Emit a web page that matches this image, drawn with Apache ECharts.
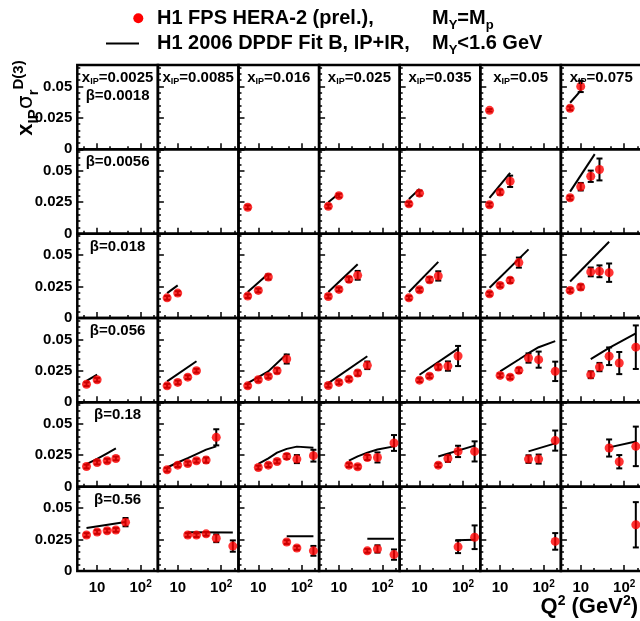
<!DOCTYPE html>
<html>
<head>
<meta charset="utf-8">
<title>H1 FPS HERA-2 reduced diffractive cross section</title>
<script src="https://cdn.jsdelivr.net/npm/echarts@6/dist/echarts.min.js"></script>
<style>
html, body { margin: 0; padding: 0; background: #fff; }
#main { width: 640px; height: 621px; }
</style>
</head>
<body>
<div id="main"></div>
<script>
// bins of the plot
var xpomBins = ['0.0025', '0.0085', '0.016', '0.025', '0.035', '0.05', '0.075'];
var betaBins = ['0.0018', '0.0056', '0.018', '0.056', '0.18', '0.56'];
var q2Range = [3.5, 250];
var yRange = [0, 0.067];
var yMajorTicks = [0, 0.025, 0.05];
var yMinorTicks = [0.005, 0.01, 0.015, 0.02, 0.03, 0.035, 0.04, 0.045, 0.055, 0.06, 0.065];
var xMajorTicks = [10, 100];
var xMinorTicks = [5, 20, 50, 200];

// measured points per beta row: [xpom column, Q2, x_IP sigma_r, error]
var dataB0018 = [
  [5, 5.7, 0.031, 0.001],
  [6, 5.7, 0.0326, 0.0015], [6, 10, 0.050, 0.0045]
];
var dataB0056 = [
  [2, 5.7, 0.021, 0.0015],
  [3, 5.7, 0.0217, 0.0015], [3, 10, 0.0302, 0.0015],
  [4, 5.7, 0.0237, 0.0015], [4, 10, 0.0322, 0.002],
  [5, 5.7, 0.023, 0.0015], [5, 10, 0.033, 0.002], [5, 17, 0.0416, 0.0045],
  [6, 5.7, 0.0285, 0.0015], [6, 10, 0.0373, 0.003], [6, 17, 0.0456, 0.0045], [6, 27, 0.051, 0.0087]
];
var dataB018 = [
  [1, 5.7, 0.016, 0.0015], [1, 10, 0.0198, 0.0015],
  [2, 5.7, 0.0174, 0.0015], [2, 10, 0.0219, 0.0015], [2, 17, 0.0326, 0.002],
  [3, 5.7, 0.0171, 0.0015], [3, 10, 0.0227, 0.0015], [3, 17, 0.0307, 0.002], [3, 27, 0.0339, 0.0035],
  [4, 5.7, 0.016, 0.0015], [4, 10, 0.0224, 0.0015], [4, 17, 0.0304, 0.002], [4, 27, 0.0334, 0.0037],
  [5, 5.7, 0.0192, 0.0015], [5, 10, 0.0259, 0.0015], [5, 17, 0.0299, 0.002], [5, 27, 0.044, 0.004],
  [6, 5.7, 0.0219, 0.0015], [6, 10, 0.0246, 0.002], [6, 17, 0.0366, 0.0035], [6, 27, 0.0371, 0.0047], [6, 45, 0.036, 0.0073]
];
var dataB056 = [
  [0, 5.7, 0.0144, 0.0015], [0, 10, 0.0179, 0.0015],
  [1, 5.7, 0.0131, 0.0015], [1, 10, 0.0158, 0.0015], [1, 17, 0.020, 0.0015], [1, 27, 0.0251, 0.0015],
  [2, 5.7, 0.0131, 0.0015], [2, 10, 0.0179, 0.0015], [2, 17, 0.0206, 0.0015], [2, 27, 0.0251, 0.002], [2, 45, 0.0344, 0.0036],
  [3, 5.7, 0.0134, 0.0015], [3, 10, 0.0158, 0.0015], [3, 17, 0.0184, 0.0015], [3, 27, 0.0232, 0.002], [3, 45, 0.0294, 0.003],
  [4, 10, 0.0176, 0.0015], [4, 17, 0.0208, 0.0015], [4, 27, 0.028, 0.002], [4, 45, 0.0288, 0.0037], [4, 77, 0.0368, 0.008],
  [5, 10, 0.0214, 0.0015], [5, 17, 0.020, 0.0015], [5, 27, 0.0254, 0.002], [5, 45, 0.0352, 0.0037], [5, 77, 0.0339, 0.0064], [5, 185, 0.0246, 0.0077],
  [6, 17, 0.0219, 0.0027], [6, 27, 0.028, 0.0033], [6, 45, 0.0366, 0.007], [6, 77, 0.0312, 0.0088], [6, 185, 0.0438, 0.0173]
];
var dataB18 = [
  [0, 5.7, 0.016, 0.0015], [0, 10, 0.0192, 0.0015], [0, 17, 0.0206, 0.0015], [0, 27, 0.0224, 0.0015],
  [1, 5.7, 0.0134, 0.0015], [1, 10, 0.0171, 0.0015], [1, 17, 0.0184, 0.0015], [1, 27, 0.0206, 0.0015], [1, 45, 0.0211, 0.002], [1, 77, 0.0392, 0.0064],
  [2, 10, 0.0152, 0.0015], [2, 17, 0.0171, 0.0015], [2, 27, 0.020, 0.0015], [2, 45, 0.024, 0.002], [2, 77, 0.0219, 0.0032], [2, 185, 0.0246, 0.0047],
  [3, 17, 0.0171, 0.0015], [3, 27, 0.0158, 0.0015], [3, 45, 0.0232, 0.002], [3, 77, 0.0232, 0.004], [3, 185, 0.0347, 0.0063],
  [4, 27, 0.0171, 0.0015], [4, 45, 0.0224, 0.0027], [4, 77, 0.028, 0.0045], [4, 185, 0.028, 0.008],
  [5, 45, 0.0219, 0.003], [5, 77, 0.0219, 0.0036], [5, 185, 0.0366, 0.008],
  [6, 45, 0.0307, 0.0068], [6, 77, 0.0198, 0.0053], [6, 185, 0.032, 0.0157]
];
var dataB56 = [
  [0, 5.7, 0.0286, 0.0015], [0, 10, 0.031, 0.0015], [0, 17, 0.032, 0.0015], [0, 27, 0.0326, 0.0015], [0, 45, 0.0388, 0.0033],
  [1, 17, 0.0286, 0.0015], [1, 27, 0.0285, 0.0015], [1, 45, 0.0295, 0.0015], [1, 77, 0.026, 0.0031], [1, 185, 0.0198, 0.0045],
  [2, 45, 0.023, 0.0015], [2, 77, 0.0183, 0.0015], [2, 185, 0.016, 0.0039],
  [3, 45, 0.016, 0.0015], [3, 77, 0.0175, 0.0029], [3, 185, 0.013, 0.0041],
  [4, 77, 0.0192, 0.005], [4, 185, 0.0268, 0.0094],
  [5, 185, 0.0235, 0.0066],
  [6, 185, 0.0367, 0.018]
];

// DPDF fit B curves per beta row: [xpom column, [[Q2, value], ...]]
var fitB0018 = [
  [6, [[5.7, 0.037], [10, 0.0466]]]
];
var fitB0056 = [
  [3, [[5.7, 0.025], [10, 0.0319]]],
  [4, [[5.7, 0.0276], [10, 0.0356]]],
  [5, [[5.7, 0.0284], [17, 0.0483]]],
  [6, [[5.7, 0.0334], [21, 0.0632]]]
];
var fitB018 = [
  [1, [[5.7, 0.0198], [10, 0.0259]]],
  [2, [[5.7, 0.0206], [17, 0.0352]]],
  [3, [[5.7, 0.0206], [27, 0.0427]]],
  [4, [[5.7, 0.0206], [27, 0.0446]]],
  [5, [[5.7, 0.024], [45, 0.0545]]],
  [6, [[5.7, 0.029], [45, 0.0606]]]
];
var fitB056 = [
  [0, [[5.7, 0.017], [10, 0.022]]],
  [1, [[5.7, 0.0166], [27, 0.0326]]],
  [2, [[5.7, 0.0152], [17, 0.0246], [45, 0.0384]]],
  [3, [[5.7, 0.0152], [45, 0.0366]]],
  [4, [[10, 0.0219], [77, 0.0427]]],
  [5, [[10, 0.0246], [27, 0.034], [45, 0.039], [77, 0.0438], [185, 0.0486]]],
  [6, [[17, 0.0344], [45, 0.0433], [185, 0.0547]]]
];
var fitB18 = [
  [0, [[5.7, 0.0179], [10, 0.022], [17, 0.0265], [27, 0.0304]]],
  [1, [[5.7, 0.0152], [10, 0.0192], [17, 0.0227], [27, 0.0259], [45, 0.0294], [77, 0.032]]],
  [2, [[10, 0.018], [17, 0.0225], [27, 0.027], [45, 0.030], [77, 0.0318], [185, 0.031]]],
  [3, [[17, 0.0206], [27, 0.024], [45, 0.027], [77, 0.0295], [185, 0.032]]],
  [4, [[27, 0.024], [185, 0.0326]]],
  [5, [[45, 0.028], [185, 0.0344]]],
  [6, [[45, 0.0312], [185, 0.0358]]]
];
var fitB56 = [
  [0, [[5.7, 0.0342], [45, 0.039]]],
  [1, [[17, 0.0308], [185, 0.0305]]],
  [2, [[45, 0.0275], [185, 0.0275]]],
  [3, [[45, 0.0257], [185, 0.0257]]],
  [4, [[68, 0.0245], [185, 0.0248]]]
];

var dataRows = [dataB0018, dataB0056, dataB018, dataB056, dataB18, dataB56];
var fitRows = [fitB0018, fitB0056, fitB018, fitB056, fitB18, fitB56];

// panel layout
var X0 = 77.3, Y0 = 65, PW = 80.6, PH = 84.33;
var FONT = '"Liberation Sans", Arial, Helvetica, sans-serif';

var chart = echarts.init(document.getElementById('main'), null, { renderer: 'canvas' });

var grids = [], xAxes = [], yAxes = [], series = [], graphics = [];

function renderErr(params, api) {
  var x = api.value(0);
  var p1 = api.coord([x, api.value(2)]);
  var p2 = api.coord([x, api.value(1)]);
  var cw = 3;
  var st = { stroke: '#000', lineWidth: 2 };
  return {
    type: 'group',
    children: [
      { type: 'line', shape: { x1: p1[0], y1: p1[1], x2: p2[0], y2: p2[1] }, style: st },
      { type: 'line', shape: { x1: p1[0] - cw, y1: p1[1], x2: p1[0] + cw, y2: p1[1] }, style: st },
      { type: 'line', shape: { x1: p2[0] - cw, y1: p2[1], x2: p2[0] + cw, y2: p2[1] }, style: st }
    ]
  };
}

for (var r = 0; r < 6; r++) {
  for (var c = 0; c < 7; c++) {
    var g = r * 7 + c;
    grids.push({
      left: X0 + c * PW, top: Y0 + r * PH, width: PW, height: PH,
      show: true, borderColor: '#000', borderWidth: 2.5,
      containLabel: false, outerBoundsMode: 'none'
    });
    // minor x ticks
    xAxes.push({
      type: 'log', logBase: 10, gridIndex: g, min: q2Range[0], max: q2Range[1], position: 'bottom',
      axisLine: { show: false }, splitLine: { show: false },
      axisTick: { show: true, inside: true, length: 3, customValues: xMinorTicks, lineStyle: { color: '#000', width: 1.5 } },
      axisLabel: { show: false }
    });
    // major x ticks + labels
    xAxes.push({
      type: 'log', logBase: 10, gridIndex: g, min: q2Range[0], max: q2Range[1], position: 'bottom',
      axisLine: { show: false }, splitLine: { show: false },
      axisTick: { show: true, inside: true, length: 6, customValues: xMajorTicks, lineStyle: { color: '#000', width: 1.5 } },
      axisLabel: {
        show: r === 5, customValues: xMajorTicks, margin: 8,
        color: '#000', fontSize: 15, fontWeight: 'bold', fontFamily: FONT, lineHeight: 18,
        formatter: function (v) {
          return Math.round(Math.log10(v)) === 1 ? '10' : '10{s|2}';
        },
        rich: { s: { fontSize: 10, fontWeight: 'bold', fontFamily: FONT, color: '#000', lineHeight: 10, verticalAlign: 'top' } }
      }
    });
    yAxes.push({
      type: 'value', gridIndex: g, min: yRange[0], max: yRange[1], position: 'left',
      axisLine: { show: false }, splitLine: { show: false },
      axisTick: { show: true, inside: true, length: 3, customValues: yMinorTicks, lineStyle: { color: '#000', width: 1.5 } },
      axisLabel: { show: false }
    });
    yAxes.push({
      type: 'value', gridIndex: g, min: yRange[0], max: yRange[1], position: 'left',
      axisLine: { show: false }, splitLine: { show: false },
      axisTick: { show: true, inside: true, length: 6, customValues: yMajorTicks, lineStyle: { color: '#000', width: 1.5 } },
      axisLabel: {
        show: c === 0, customValues: yMajorTicks, margin: 5,
        color: '#000', fontSize: 15, fontWeight: 'bold', fontFamily: FONT,
        formatter: function (v) { return v === 0 ? '0' : String(+v.toFixed(3)); }
      }
    });

    var pts = dataRows[r].filter(function (d) { return d[0] === c; });
    if (pts.length) {
      series.push({
        type: 'custom', xAxisIndex: 2 * g, yAxisIndex: 2 * g, z: 3,
        renderItem: renderErr, clip: false, silent: true,
        encode: { x: 0, y: [1, 2] },
        data: pts.map(function (d) { return [d[1], d[2] - d[3], d[2] + d[3]]; })
      });
      series.push({
        type: 'scatter', xAxisIndex: 2 * g, yAxisIndex: 2 * g, z: 4,
        symbol: 'circle', symbolSize: 9, silent: true,
        itemStyle: { color: '#ff0000' },
        data: pts.map(function (d) { return [d[1], d[2]]; })
      });
    }
    var fits = fitRows[r].filter(function (f) { return f[0] === c; });
    fits.forEach(function (f) {
      series.push({
        type: 'line', xAxisIndex: 2 * g, yAxisIndex: 2 * g, z: 2,
        showSymbol: false, symbol: 'none', silent: true, smooth: false,
        lineStyle: { color: '#000', width: 2 },
        data: f[1]
      });
    });
  }
}

// panel labels
var subStyle = { fontSize: 9, fontWeight: 'bold', fontFamily: FONT, fill: '#000', lineHeight: 9, verticalAlign: 'bottom' };
for (var c2 = 0; c2 < 7; c2++) {
  graphics.push({
    type: 'text', x: X0 + c2 * PW + PW / 2, y: Y0 + 13, z: 10,
    style: {
      text: 'x{sub|IP}=' + xpomBins[c2],
      fontSize: 15, fontWeight: 'bold', fontFamily: FONT, fill: '#000', lineHeight: 17,
      align: 'center', verticalAlign: 'middle', textAlign: 'center', textVerticalAlign: 'middle',
      rich: { sub: subStyle }
    }
  });
}
for (var r2 = 0; r2 < 6; r2++) {
  graphics.push({
    type: 'text', x: X0 + PW / 2, y: Y0 + r2 * PH + (r2 === 0 ? 31 : 13), z: 10,
    style: {
      text: 'β=' + betaBins[r2],
      fontSize: 15, fontWeight: 'bold', fontFamily: FONT, fill: '#000',
      align: 'center', verticalAlign: 'middle', textAlign: 'center', textVerticalAlign: 'middle'
    }
  });
}

// legend
var legSub = { fontSize: 13, fontWeight: 'bold', fontFamily: FONT, fill: '#000', lineHeight: 12, verticalAlign: 'bottom' };
function legendText(x, y, txt) {
  return {
    type: 'text', x: x, y: y, z: 10,
    style: {
      text: txt, fontSize: 20, fontWeight: 'bold', fontFamily: FONT, fill: '#000', lineHeight: 26,
      align: 'left', verticalAlign: 'middle', textAlign: 'left', textVerticalAlign: 'middle',
      rich: { sub: legSub }
    }
  };
}
graphics.push({ type: 'circle', shape: { cx: 138.3, cy: 18.3, r: 5 }, style: { fill: '#ff0000' } });
graphics.push({ type: 'line', shape: { x1: 106, y1: 43.5, x2: 139, y2: 43.5 }, style: { stroke: '#000', lineWidth: 2 } });
graphics.push(legendText(157, 18.5, 'H1 FPS HERA-2 (prel.),'));
graphics.push(legendText(432, 18.5, 'M{sub|Y}=M{sub|p}'));
graphics.push(legendText(157, 43.5, 'H1 2006 DPDF Fit B, IP+IR,'));
graphics.push(legendText(432, 43.5, 'M{sub|Y}<1.6 GeV'));

// axis titles
graphics.push({
  type: 'text', x: 26, y: 98, rotation: Math.PI / 2, z: 10,
  style: {
    text: 'x{sub|IP}{sig|σ}{sub|r}{sup|D(3)}',
    fontSize: 22, fontWeight: 'bold', fontFamily: FONT, fill: '#000', lineHeight: 30,
    align: 'center', verticalAlign: 'middle', textAlign: 'center', textVerticalAlign: 'middle',
    rich: {
      sub: { fontSize: 15, fontWeight: 'bold', fontFamily: FONT, fill: '#000', lineHeight: 14, verticalAlign: 'bottom' },
      sup: { fontSize: 15, fontWeight: 'bold', fontFamily: FONT, fill: '#000', lineHeight: 14, verticalAlign: 'top' },
      sig: { fontSize: 22, fontWeight: 'normal', fontFamily: '"DejaVu Sans", sans-serif', fill: '#000', lineHeight: 30 }
    }
  }
});
graphics.push({
  type: 'text', x: 638, y: 607, z: 10,
  style: {
    text: 'Q{sup|2} (GeV{sup|2})',
    fontSize: 22, fontWeight: 'bold', fontFamily: FONT, fill: '#000', lineHeight: 26,
    align: 'right', verticalAlign: 'middle', textAlign: 'right', textVerticalAlign: 'middle',
    rich: { sup: { fontSize: 14, fontWeight: 'bold', fontFamily: FONT, fill: '#000', lineHeight: 12, verticalAlign: 'top' } }
  }
});

chart.setOption({
  animation: false,
  backgroundColor: '#fff',
  grid: grids,
  xAxis: xAxes,
  yAxis: yAxes,
  series: series,
  graphic: { elements: graphics }
});

window.onresize = function () {
  chart.resize();
};
</script>
</body>
</html>
